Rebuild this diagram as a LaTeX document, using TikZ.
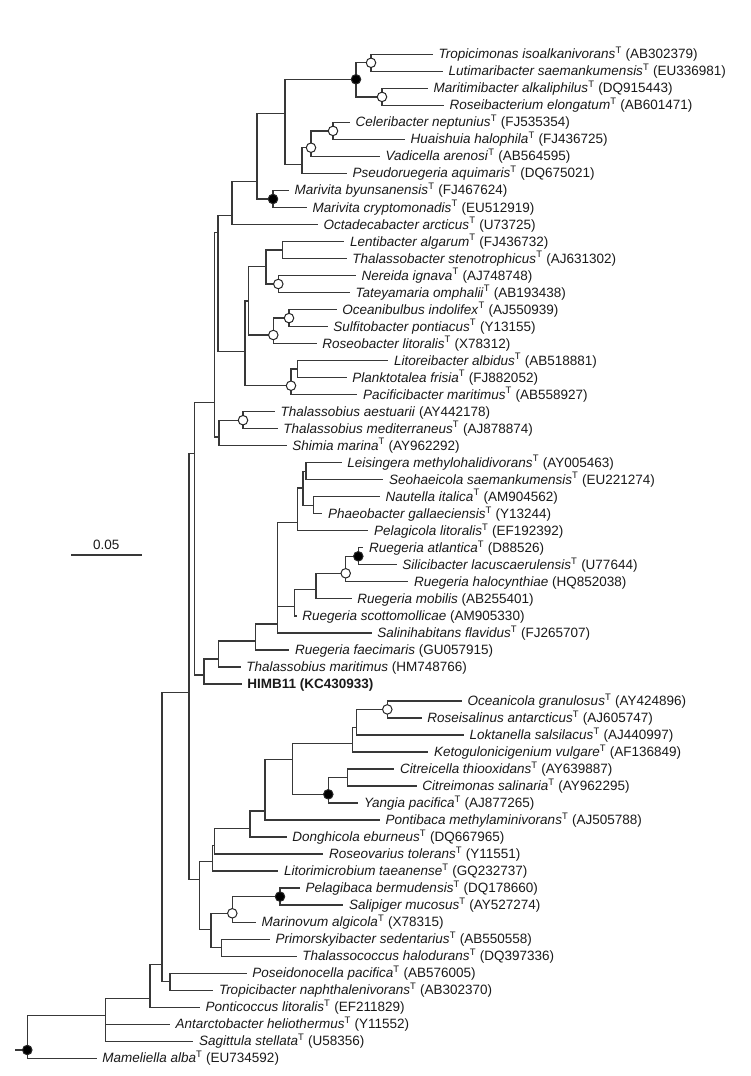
\documentclass[tikz,border=0pt]{standalone}
\usepackage{fontspec}
\setmainfont{Liberation Sans}
\begin{document}
\begin{tikzpicture}[x=1pt,y=-1pt,
  br/.style={draw=black!78,line width=1.3pt},
  leaf/.style={anchor=base west,inner sep=0pt,xshift=5.5pt,yshift=-4.5pt,font=\fontsize{13.5}{15}\selectfont,text=black!90},
  oc/.style={circle,draw=black!85,fill=white,line width=1pt,inner sep=0pt,minimum size=9.5pt},
  fc/.style={oc,fill=black}]
\useasboundingbox (0,0) rectangle (750,1076);
% leaves
\coordinate (L1) at (433,54.3);
\coordinate (L2) at (443,71.3);
\coordinate (L3) at (428,88.3);
\coordinate (L4) at (444,105.4);
\coordinate (L5) at (350,122.4);
\coordinate (L6) at (405,139.4);
\coordinate (L7) at (380,156.4);
\coordinate (L8) at (347,173.4);
\coordinate (L9) at (289,190.4);
\coordinate (L10) at (307,207.5);
\coordinate (L11) at (318,224.5);
\coordinate (L12) at (344.3,241.5);
\coordinate (L13) at (346.7,258.5);
\coordinate (L14) at (356,275.5);
\coordinate (L15) at (350,292.5);
\coordinate (L16) at (336.7,309.6);
\coordinate (L17) at (327.7,326.6);
\coordinate (L18) at (316.7,343.6);
\coordinate (L19) at (388.3,360.6);
\coordinate (L20) at (346.7,377.6);
\coordinate (L21) at (357.3,394.6);
\coordinate (L22) at (275,411.7);
\coordinate (L23) at (277.7,428.7);
\coordinate (L24) at (286.7,445.7);
\coordinate (L25) at (341.7,462.7);
\coordinate (L26) at (383.3,479.7);
\coordinate (L27) at (380,496.7);
\coordinate (L28) at (322.3,513.8);
\coordinate (L29) at (368.3,530.8);
\coordinate (L30) at (363.3,547.8);
\coordinate (L31) at (396.7,564.8);
\coordinate (L32) at (408.3,581.8);
\coordinate (L33) at (351.7,598.8);
\coordinate (L34) at (296.7,615.9);
\coordinate (L35) at (371.7,632.9);
\coordinate (L36) at (289.3,649.9);
\coordinate (L37) at (240.7,666.9);
\coordinate (L38) at (241.7,683.9);
\coordinate (L39) at (462,700.9);
\coordinate (L40) at (421.7,718.0);
\coordinate (L41) at (464,735.0);
\coordinate (L42) at (428.3,752.0);
\coordinate (L43) at (394.3,769.0);
\coordinate (L44) at (416.7,786.0);
\coordinate (L45) at (358.3,803.0);
\coordinate (L46) at (380,820.1);
\coordinate (L47) at (286.7,837.1);
\coordinate (L48) at (323.3,854.1);
\coordinate (L49) at (278.3,871.1);
\coordinate (L50) at (300,888.1);
\coordinate (L51) at (343.3,905.1);
\coordinate (L52) at (256,922.2);
\coordinate (L53) at (270,939.2);
\coordinate (L54) at (296.7,956.2);
\coordinate (L55) at (246.7,973.2);
\coordinate (L56) at (213.3,990.2);
\coordinate (L57) at (200,1007.2);
\coordinate (L58) at (170,1024.3);
\coordinate (L59) at (193.3,1041.3);
\coordinate (L60) at (96.7,1058.3);
% internal nodes
\coordinate (n1) at (371,62.8);
\coordinate (n2) at (382,96.9);
\coordinate (n3) at (356,79.3);
\coordinate (n4) at (333,130.9);
\coordinate (n5) at (311,147.7);
\coordinate (n6) at (302,164.3);
\coordinate (n7) at (285,113.3);
\coordinate (n8) at (273,199);
\coordinate (n9) at (257,181.7);
\coordinate (n10) at (232,215.7);
\coordinate (n13) at (282.7,250);
\coordinate (n14) at (278.3,284);
\coordinate (n15) at (266,266.7);
\coordinate (n16) at (289,318.1);
\coordinate (n17) at (273.3,335);
\coordinate (n18) at (248.3,301);
\coordinate (n19) at (297.7,369.1);
\coordinate (n20) at (291,385.7);
\coordinate (n21) at (245,351.7);
\coordinate (n11) at (218,232.7);
\coordinate (n22) at (243,420.2);
\coordinate (n23) at (219,437);
\coordinate (n24) at (214.5,402.5);
\coordinate (nls) at (306,471.2);
\coordinate (nnaut) at (313.3,505.3);
\coordinate (nlsn) at (303,488);
\coordinate (nleis) at (297.7,522.3);
\coordinate (nra) at (358.3,556.3);
\coordinate (nrh) at (345.7,573.3);
\coordinate (nrm) at (316,589.3);
\coordinate (nrs) at (294.3,606.7);
\coordinate (nbig) at (277.7,624);
\coordinate (nrf) at (255.7,641);
\coordinate (ntm) at (218.3,659);
\coordinate (nh) at (204,675);
\coordinate (n25) at (194.3,453.3);
\coordinate (noc) at (387.3,709.4);
\coordinate (nlok) at (356.7,727.7);
\coordinate (nket) at (352.3,743.3);
\coordinate (ncc) at (347.7,777.5);
\coordinate (ncy) at (328.3,794.3);
\coordinate (nk) at (292.3,759.3);
\coordinate (npont) at (265,811);
\coordinate (ndong) at (250,828.3);
\coordinate (nros) at (214.3,845.7);
\coordinate (nlit) at (212.3,861.7);
\coordinate (npel) at (280,896.6);
\coordinate (nmar) at (232.3,913.3);
\coordinate (npt2) at (221.7,947.7);
\coordinate (nmp) at (211,929.3);
\coordinate (nlow) at (199.3,879.3);
\coordinate (n26) at (189,692.3);
\coordinate (npt) at (170,981.7);
\coordinate (n27) at (162,964.3);
\coordinate (n28) at (150,998.3);
\coordinate (n29) at (105.7,1015.7);
\coordinate (root) at (27.3,1050);
\coordinate (stub) at (15,1050);
% branches
\path[br]
 (n1) |- (L1) (n1) |- (L2)
 (n2) |- (L3) (n2) |- (L4)
 (n3) |- (n1) (n3) |- (n2)
 (n4) |- (L5) (n4) |- (L6)
 (n5) |- (n4) (n5) |- (L7)
 (n6) |- (n5) (n6) |- (L8)
 (n7) |- (n3) (n7) |- (n6)
 (n8) |- (L9) (n8) |- (L10)
 (n9) |- (n7) (n9) |- (n8)
 (n10) |- (n9) (n10) |- (L11)
 (n13) |- (L12) (n13) |- (L13)
 (n14) |- (L14) (n14) |- (L15)
 (n15) |- (n13) (n15) |- (n14)
 (n16) |- (L16) (n16) |- (L17)
 (n17) |- (n16) (n17) |- (L18)
 (n18) |- (n15) (n18) |- (n17)
 (n19) |- (L19) (n19) |- (L20)
 (n20) |- (n19) (n20) |- (L21)
 (n21) |- (n18) (n21) |- (n20)
 (n11) |- (n10) (n11) |- (n21)
 (n22) |- (L22) (n22) |- (L23)
 (n23) |- (n22) (n23) |- (L24)
 (n24) |- (n11) (n24) |- (n23)
 (nls) |- (L25) (nls) |- (L26)
 (nnaut) |- (L27) (nnaut) |- (L28)
 (nlsn) |- (nls) (nlsn) |- (nnaut)
 (nleis) |- (nlsn) (nleis) |- (L29)
 (nra) |- (L30) (nra) |- (L31)
 (nrh) |- (nra) (nrh) |- (L32)
 (nrm) |- (nrh) (nrm) |- (L33)
 (nrs) |- (nrm) (nrs) |- (L34)
 (nbig) |- (nleis) (nbig) |- (nrs) (nbig) |- (L35)
 (nrf) |- (nbig) (nrf) |- (L36)
 (ntm) |- (nrf) (ntm) |- (L37)
 (nh) |- (ntm) (nh) |- (L38)
 (n25) |- (n24) (n25) |- (nh)
 (noc) |- (L39) (noc) |- (L40)
 (nlok) |- (noc) (nlok) |- (L41)
 (nket) |- (nlok) (nket) |- (L42)
 (ncc) |- (L43) (ncc) |- (L44)
 (ncy) |- (ncc) (ncy) |- (L45)
 (nk) |- (nket) (nk) |- (ncy)
 (npont) |- (nk) (npont) |- (L46)
 (ndong) |- (npont) (ndong) |- (L47)
 (nros) |- (ndong) (nros) |- (L48)
 (nlit) |- (nros) (nlit) |- (L49)
 (npel) |- (L50) (npel) |- (L51)
 (nmar) |- (npel) (nmar) |- (L52)
 (npt2) |- (L53) (npt2) |- (L54)
 (nmp) |- (nmar) (nmp) |- (npt2)
 (nlow) |- (nlit) (nlow) |- (nmp)
 (n26) |- (n25) (n26) |- (nlow)
 (npt) |- (L55) (npt) |- (L56)
 (n27) |- (n26) (n27) |- (npt)
 (n28) |- (n27) (n28) |- (L57)
 (n29) |- (n28) (n29) |- (L58) (n29) |- (L59)
 (root) |- (n29) (root) |- (L60)
 (stub) -- (root);
% support circles
\foreach \c in {n1,n2,n4,n5,n14,n16,n17,n20,n22,nrh,noc,nmar} \node[oc] at (\c) {};
\foreach \c in {n3,n8,nra,ncy,npel,root} \node[fc] at (\c) {};
% labels
\newcommand\sT{\textsuperscript{T}}
\node[leaf] (T1) at (L1) {\textit{Tropicimonas isoalkanivorans}\sT{} (AB302379)};
\node[leaf] (T2) at (L2) {\textit{Lutimaribacter saemankumensis}\sT{} (EU336981)};
\node[leaf] (T3) at (L3) {\textit{Maritimibacter alkaliphilus}\sT{} (DQ915443)};
\node[leaf] (T4) at (L4) {\textit{Roseibacterium elongatum}\sT{} (AB601471)};
\node[leaf] (T5) at (L5) {\textit{Celeribacter neptunius}\sT{} (FJ535354)};
\node[leaf] (T6) at (L6) {\textit{Huaishuia halophila}\sT{} (FJ436725)};
\node[leaf] (T7) at (L7) {\textit{Vadicella arenosi}\sT{} (AB564595)};
\node[leaf] (T8) at (L8) {\textit{Pseudoruegeria aquimaris}\sT{} (DQ675021)};
\node[leaf] (T9) at (L9) {\textit{Marivita byunsanensis}\sT{} (FJ467624)};
\node[leaf] (T10) at (L10) {\textit{Marivita cryptomonadis}\sT{} (EU512919)};
\node[leaf] (T11) at (L11) {\textit{Octadecabacter arcticus}\sT{} (U73725)};
\node[leaf] (T12) at (L12) {\textit{Lentibacter algarum}\sT{} (FJ436732)};
\node[leaf] (T13) at (L13) {\textit{Thalassobacter stenotrophicus}\sT{} (AJ631302)};
\node[leaf] (T14) at (L14) {\textit{Nereida ignava}\sT{} (AJ748748)};
\node[leaf] (T15) at (L15) {\textit{Tateyamaria omphalii}\sT{} (AB193438)};
\node[leaf] (T16) at (L16) {\textit{Oceanibulbus indolifex}\sT{} (AJ550939)};
\node[leaf] (T17) at (L17) {\textit{Sulfitobacter pontiacus}\sT{} (Y13155)};
\node[leaf] (T18) at (L18) {\textit{Roseobacter litoralis}\sT{} (X78312)};
\node[leaf] (T19) at (L19) {\textit{Litoreibacter albidus}\sT{} (AB518881)};
\node[leaf] (T20) at (L20) {\textit{Planktotalea frisia}\sT{} (FJ882052)};
\node[leaf] (T21) at (L21) {\textit{Pacificibacter maritimus}\sT{} (AB558927)};
\node[leaf] (T22) at (L22) {\textit{Thalassobius aestuarii} (AY442178)};
\node[leaf] (T23) at (L23) {\textit{Thalassobius mediterraneus}\sT{} (AJ878874)};
\node[leaf] (T24) at (L24) {\textit{Shimia marina}\sT{} (AY962292)};
\node[leaf] (T25) at (L25) {\textit{Leisingera methylohalidivorans}\sT{} (AY005463)};
\node[leaf] (T26) at (L26) {\textit{Seohaeicola saemankumensis}\sT{} (EU221274)};
\node[leaf] (T27) at (L27) {\textit{Nautella italica}\sT{} (AM904562)};
\node[leaf] (T28) at (L28) {\textit{Phaeobacter gallaeciensis}\sT{} (Y13244)};
\node[leaf] (T29) at (L29) {\textit{Pelagicola litoralis}\sT{} (EF192392)};
\node[leaf] (T30) at (L30) {\textit{Ruegeria atlantica}\sT{} (D88526)};
\node[leaf] (T31) at (L31) {\textit{Silicibacter lacuscaerulensis}\sT{} (U77644)};
\node[leaf] (T32) at (L32) {\textit{Ruegeria halocynthiae} (HQ852038)};
\node[leaf] (T33) at (L33) {\textit{Ruegeria mobilis} (AB255401)};
\node[leaf] (T34) at (L34) {\textit{Ruegeria scottomollicae} (AM905330)};
\node[leaf] (T35) at (L35) {\textit{Salinihabitans flavidus}\sT{} (FJ265707)};
\node[leaf] (T36) at (L36) {\textit{Ruegeria faecimaris} (GU057915)};
\node[leaf] (T37) at (L37) {\textit{Thalassobius maritimus} (HM748766)};
\node[leaf] (T38) at (L38) {\textbf{HIMB11 (KC430933)}};
\node[leaf] (T39) at (L39) {\textit{Oceanicola granulosus}\sT{} (AY424896)};
\node[leaf] (T40) at (L40) {\textit{Roseisalinus antarcticus}\sT{} (AJ605747)};
\node[leaf] (T41) at (L41) {\textit{Loktanella salsilacus}\sT{} (AJ440997)};
\node[leaf] (T42) at (L42) {\textit{Ketogulonicigenium vulgare}\sT{} (AF136849)};
\node[leaf] (T43) at (L43) {\textit{Citreicella thiooxidans}\sT{} (AY639887)};
\node[leaf] (T44) at (L44) {\textit{Citreimonas salinaria}\sT{} (AY962295)};
\node[leaf] (T45) at (L45) {\textit{Yangia pacifica}\sT{} (AJ877265)};
\node[leaf] (T46) at (L46) {\textit{Pontibaca methylaminivorans}\sT{} (AJ505788)};
\node[leaf] (T47) at (L47) {\textit{Donghicola eburneus}\sT{} (DQ667965)};
\node[leaf] (T48) at (L48) {\textit{Roseovarius tolerans}\sT{} (Y11551)};
\node[leaf] (T49) at (L49) {\textit{Litorimicrobium taeanense}\sT{} (GQ232737)};
\node[leaf] (T50) at (L50) {\textit{Pelagibaca bermudensis}\sT{} (DQ178660)};
\node[leaf] (T51) at (L51) {\textit{Salipiger mucosus}\sT{} (AY527274)};
\node[leaf] (T52) at (L52) {\textit{Marinovum algicola}\sT{} (X78315)};
\node[leaf] (T53) at (L53) {\textit{Primorskyibacter sedentarius}\sT{} (AB550558)};
\node[leaf] (T54) at (L54) {\textit{Thalassococcus halodurans}\sT{} (DQ397336)};
\node[leaf] (T55) at (L55) {\textit{Poseidonocella pacifica}\sT{} (AB576005)};
\node[leaf] (T56) at (L56) {\textit{Tropicibacter naphthalenivorans}\sT{} (AB302370)};
\node[leaf] (T57) at (L57) {\textit{Ponticoccus litoralis}\sT{} (EF211829)};
\node[leaf] (T58) at (L58) {\textit{Antarctobacter heliothermus}\sT{} (Y11552)};
\node[leaf] (T59) at (L59) {\textit{Sagittula stellata}\sT{} (U58356)};
\node[leaf] (T60) at (L60) {\textit{Mameliella alba}\sT{} (EU734592)};
% scale bar
\coordinate (sbA) at (71,555);
\coordinate (sbB) at (141.7,555);
\draw[br] (sbA) -- (sbB);
\node[font=\fontsize{13.5}{15}\selectfont,anchor=base,inner sep=0pt,text=black!90] (sbl) at (106.3,549) {0.05};
\end{tikzpicture}
\end{document}
